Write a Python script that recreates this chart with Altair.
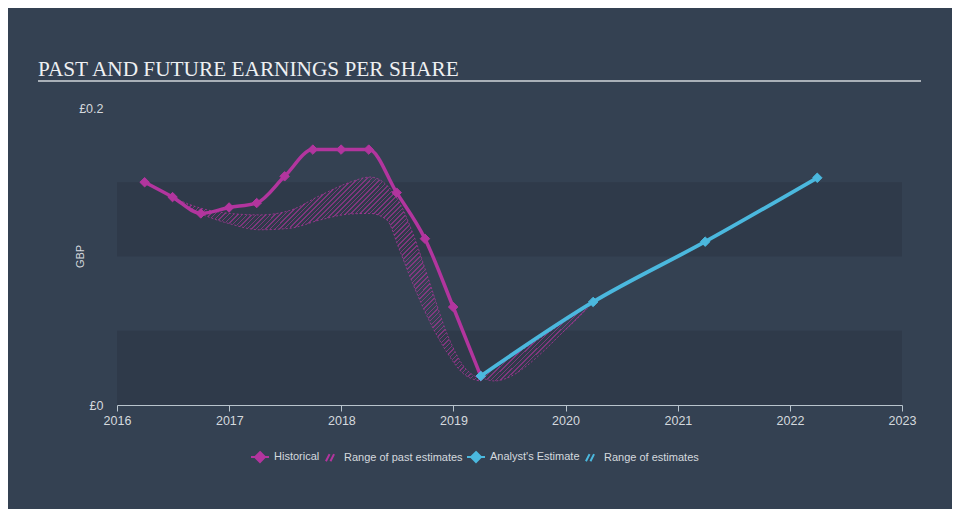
import math
import altair as alt
import pandas as pd

# ---------------- data ----------------
hist_dates = ["2016-03-31", "2016-06-30", "2016-09-30", "2016-12-31", "2017-03-31",
              "2017-06-30", "2017-09-30", "2017-12-31", "2018-03-31", "2018-06-30",
              "2018-09-30", "2018-12-31", "2019-03-31"]
hist_eps = [0.150, 0.140, 0.129, 0.133, 0.136, 0.154, 0.172, 0.172, 0.172,
            0.143, 0.112, 0.066, 0.0195]

est_dates = ["2019-03-31", "2020-03-31", "2021-03-31", "2022-03-31"]
est_eps = [0.0195, 0.0694, 0.110, 0.153]

past_rng_dates = ["2016-06-28", "2016-09-27", "2017-01-03", "2017-04-10", "2017-07-17",
                  "2017-10-23", "2018-01-29", "2018-04-04", "2018-05-29", "2018-07-10",
                  "2018-08-21", "2018-10-16", "2018-12-10", "2019-01-31", "2019-03-31"]
past_rng_hi = [0.140, 0.1327, 0.129, 0.128, 0.131, 0.141, 0.150, 0.1535, 0.148,
               0.136, 0.116, 0.082, 0.0485, 0.027, 0.0175]
past_rng_lo = [0.139, 0.129, 0.122, 0.118, 0.119, 0.1246, 0.1286, 0.129, 0.1246,
               0.104, 0.082, 0.056, 0.0357, 0.0215, 0.016]

fut_rng_dates = ["2019-03-31", "2019-05-15", "2019-07-03", "2019-08-27", "2019-10-25",
                 "2019-12-13", "2020-02-10", "2020-03-31"]
fut_rng_hi = [0.0195, 0.026, 0.032, 0.039, 0.047, 0.054, 0.062, 0.0694]
fut_rng_lo = [0.0185, 0.0162, 0.0189, 0.0263, 0.037, 0.047, 0.0586, 0.0694]

band_lo = [0.0, 0.10]
band_hi = [0.05, 0.15]

x_years = [2016, 2017, 2018, 2019, 2020, 2021, 2022, 2023]
y_ticks = [0, 0.2]

series_names = ["Historical", "Range of past estimates", "Analyst's Estimate", "Range of estimates"]

# ---------------- style ----------------
BG = "#344152"
BAND = "#2f3a4a"
MAG = "#b2359e"
BLUE = "#4bb8de"
TXT = "#d4d9de"
FONT = "Liberation Sans"

W, H = 785, 297


def hatch(bw, bh, color, pitch=3.3, lw=1.0):
    scale = 1.2
    perp = (bw * bw + bh * bh) / (bw * math.sqrt(2)) * scale
    period = pitch / perp
    clear = "rgba(0,0,0,0)"
    stops = []
    t = 0.0
    while t < 1:
        b = min(t + lw / perp, 1)
        c = min(t + period, 1)
        stops += [alt.GradientStop(offset=t, color=color),
                  alt.GradientStop(offset=b, color=color),
                  alt.GradientStop(offset=b, color=clear),
                  alt.GradientStop(offset=c, color=clear)]
        t += period
    return alt.Gradient(gradient="linear", stops=stops, x1=0, y1=0,
                        x2=scale, y2=scale * bh / bw)


hist_df = pd.DataFrame({"date": hist_dates, "eps": hist_eps, "series": "Historical"})
est_df = pd.DataFrame({"date": est_dates, "eps": est_eps, "series": "Analyst's Estimate"})
past_df = pd.DataFrame({"date": past_rng_dates, "lo": past_rng_lo, "hi": past_rng_hi})
fut_df = pd.DataFrame({"date": fut_rng_dates, "lo": fut_rng_lo, "hi": fut_rng_hi})
band_df = pd.DataFrame({"lo": band_lo, "hi": band_hi})

x_scale = alt.Scale(domain=[alt.DateTime(year=2016, month=1, date=1),
                            alt.DateTime(year=2023, month=1, date=1)], nice=False)
y_scale = alt.Scale(domain=[0, 0.2], nice=False, zero=True)

x_axis = alt.Axis(values=[alt.DateTime(year=y, month=1, date=1) for y in x_years],
                  format="%Y", title=None, grid=False, domainColor="#b9c4cd",
                  tickColor="#b9c4cd", tickSize=6, labelColor=TXT, labelFont=FONT,
                  labelFontSize=12.5, labelPadding=3, domainWidth=1, labelFlush=False,
                  labelOverlap=False)
y_axis = alt.Axis(values=y_ticks, format="~g", labelExpr="'£' + datum.label",
                  title="GBP", grid=False, domain=False, ticks=False,
                  labelColor=TXT, labelFont=FONT, labelFontSize=12.5, labelPadding=14,
                  titleColor=TXT, titleFont=FONT, titleFontSize=11, titleFontWeight="normal",
                  titleX=-37, titleY=148, titleAlign="center", titleBaseline="middle")

X = alt.X("date:T", scale=x_scale, axis=x_axis)
Y = alt.Y("eps:Q", scale=y_scale, axis=y_axis)

shape_paths = [
    "M-1,0L1,0M0,-0.55L0.55,0L0,0.55L-0.55,0Z",
    "M-0.45,0.4L-0.05,-0.4M0.05,0.4L0.45,-0.4",
    "M-1,0L1,0M0,-0.55L0.55,0L0,0.55L-0.55,0Z",
    "M-0.45,0.4L-0.05,-0.4M0.05,0.4L0.45,-0.4",
]
color_range = [MAG, MAG, BLUE, BLUE]

legend = alt.Legend(title=None, orient="none", direction="horizontal",
                    columns=4, legendX=133, legendY=339,
                    labelColor=TXT, labelFont=FONT, labelFontSize=11,
                    symbolSize=324, symbolStrokeWidth=2,
                    columnPadding=0, labelOffset=4, labelLimit=0)
stroke_enc = alt.Stroke("series:N", scale=alt.Scale(domain=series_names, range=color_range),
                        legend=legend)
fill_enc = alt.Fill("series:N", scale=alt.Scale(domain=series_names, range=color_range))
shape_enc = alt.Shape("series:N", scale=alt.Scale(domain=series_names, range=shape_paths))

bands = alt.Chart(band_df).mark_rect(color=BAND).encode(
    x=alt.value(0), x2=alt.value(W),
    y=alt.Y("lo:Q", scale=y_scale, axis=y_axis), y2="hi:Q")

title_rule = alt.Chart(band_df.head(1)).mark_rule(color="#a9b0b8", strokeWidth=2).encode(
    x=alt.value(-79), x2=alt.value(804), y=alt.value(-27))

past_area = alt.Chart(past_df).mark_area(
    fill=hatch(309, 204, "rgba(178,53,158,0.6)"), interpolate="monotone",
    stroke="rgba(178,53,158,0.75)", strokeWidth=1, strokeDash=[2, 2]).encode(
    x=X, y=alt.Y("lo:Q", scale=y_scale, axis=y_axis), y2="hi:Q")

fut_area = alt.Chart(fut_df).mark_area(
    fill=hatch(112, 80, "rgba(178,53,158,0.6)"), interpolate="monotone",
    stroke="rgba(178,53,158,0.75)", strokeWidth=1, strokeDash=[2, 2]).encode(
    x=X, y=alt.Y("lo:Q", scale=y_scale, axis=y_axis), y2="hi:Q")

hist_line = alt.Chart(hist_df).mark_line(strokeWidth=3.5, interpolate="monotone").encode(
    x=X, y=Y, stroke=stroke_enc)
hist_pts = alt.Chart(hist_df).mark_point(filled=True, size=90, opacity=1, strokeWidth=1,
                                         shape="diamond").encode(
    x=X, y=Y, stroke=stroke_enc, fill=fill_enc)

est_line = alt.Chart(est_df).mark_line(strokeWidth=3.8, interpolate="monotone").encode(
    x=X, y=Y, stroke=stroke_enc)
est_pts = alt.Chart(est_df).mark_point(filled=True, size=90, opacity=1, strokeWidth=1,
                                       shape="diamond").encode(
    x=X, y=Y, stroke=stroke_enc, fill=fill_enc)

# legend-only layer (no rows survive the filter), carries the legend symbol shapes
legend_layer = alt.Chart(hist_df).mark_point(filled=True, opacity=1).encode(
    x=X, y=Y, stroke=stroke_enc, fill=fill_enc, shape=shape_enc
).transform_filter("false")

chart = alt.layer(
    bands, title_rule, past_area, fut_area, hist_line, hist_pts, est_line, est_pts, legend_layer
).properties(
    width=W, height=H,
    autosize=alt.AutoSizeParams(type="none"),
    padding={"left": 109, "top": 100, "right": 50, "bottom": 104},
    title=alt.TitleParams(text="PAST AND FUTURE EARNINGS PER SHARE", anchor="start",
                          frame="group", font="Liberation Serif", fontSize=21.3,
                          fontWeight="normal", color="#eef0f2", dx=-79, dy=50, offset=33,
                          baseline="alphabetic"),
).configure(background=BG).configure_view(stroke=None)

chart.save("out.html", embed_options={"renderer": "svg", "actions": False})
